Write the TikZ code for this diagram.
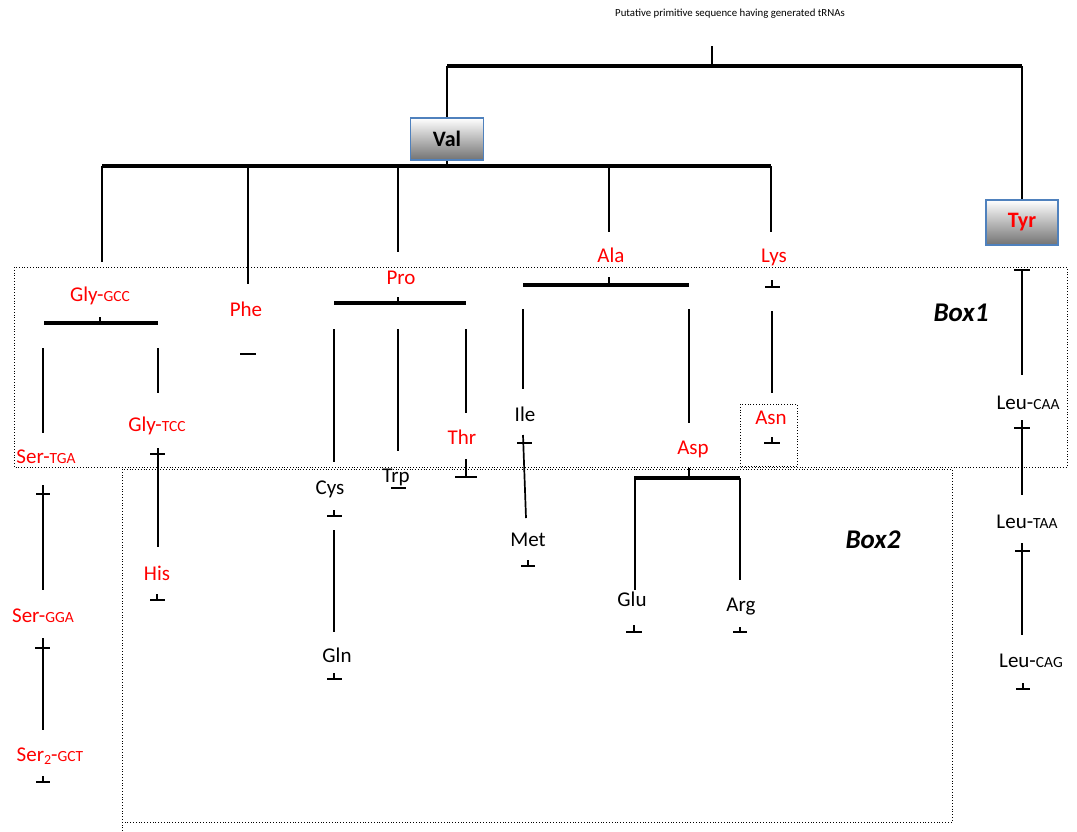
\documentclass[tikz,border=0pt]{standalone}
\usepackage{fontspec}
\setmainfont{Carlito}
\newcommand\smc[1]{{\fontsize{15.5}{15.5}\selectfont #1}}
\definecolor{boxblue}{HTML}{4F81BD}
\definecolor{lblred}{HTML}{FF0000}
\begin{document}
\begin{tikzpicture}[x=1pt,y=-1pt,
  lbl/.style={font=\fontsize{21}{21}\selectfont, inner sep=0pt, anchor=mid, yshift=-3pt},
  rl/.style={lbl, text=lblred},
  bl/.style={lbl, text=black},
  ln/.style={line width=1.7pt},
  thk/.style={line width=3.8pt},
  dbox/.style={dotted, line width=0.8pt},
  aabox/.style={draw=boxblue, line width=1.5pt, top color=white, bottom color=black!55,
    font=\fontsize{22}{22}\selectfont\bfseries, inner sep=0pt},
  boxlbl/.style={font=\fontsize{27}{27}\selectfont\bfseries\itshape, inner sep=0pt, anchor=mid, yshift=-3pt}]
\useasboundingbox (0,0) rectangle (1077,831);

% title and root
\node[font=\fontsize{10.8}{10.8}\selectfont, inner sep=0pt] (title) at (730,14) {Putative primitive sequence having generated tRNAs};
\coordinate (r0) at (712,46);
\coordinate (r1) at (712,66);
\coordinate (tl) at (447,66);
\coordinate (tr) at (1022,66);
\draw[ln] (r0) -- (r1);
\draw[thk] (tl) -- (tr);

% boxes
\node[aabox, minimum width=73pt, minimum height=42pt] (val) at (447,139) {Val};
\node[aabox, minimum width=72pt, minimum height=45pt, text=lblred] (tyr) at (1022,222.5) {Tyr};
\draw[ln] (tl) -- (val.north);
\draw[ln] (tr) -- (tyr.north);

% Val level
\coordinate (vb) at (447,166);
\coordinate (h1) at (102,166);
\coordinate (h2) at (771,166);
\draw[ln] (val.south) -- (vb);
\draw[thk] (h1) -- (h2);
\coordinate (bGly) at (102,262);
\coordinate (tPhe) at (248,166);
\coordinate (bPhe) at (248,284);
\coordinate (tPro) at (398,166);
\coordinate (bPro) at (398,252);
\coordinate (tAla) at (609,166);
\coordinate (bAla) at (609,232);
\coordinate (bLys) at (771,232);
\draw[ln] (h1) -- (bGly);
\draw[ln] (tPhe) -- (bPhe);
\draw[ln] (tPro) -- (bPro);
\draw[ln] (tAla) -- (bAla);
\draw[ln] (h2) -- (bLys);

% Gly group
\node[rl] (glygcc) at (100,296) {Gly-\smc{GCC}};
\draw[ln] (100,317) -- (100,323);
\draw[thk] (44,323) -- (158,323);
\draw[ln] (43,348) -- (43,433);
\draw[ln] (158,348) -- (158,393);
\node[rl] (sertga) at (46,458) {Ser-\smc{TGA}};
\node[rl] (glytcc) at (157,426) {Gly-\smc{TCC}};
\draw[ln] (150,454) -- (165,454);
\draw[ln] (158,448) -- (158,547);
\node[rl] (his) at (157,575) {His};
\draw[ln] (150,600) -- (165,600);
\draw[ln] (157,594) -- (157,600);
\draw[ln] (36,494) -- (50,494);
\draw[ln] (43,485) -- (43,590);
\node[rl] (sergga) at (43,617) {Ser-\smc{GGA}};
\draw[ln] (35,648) -- (50,648);
\draw[ln] (43,638) -- (43,730);
\node[rl] (sergct) at (50,756) {Ser{\raisebox{-0.35ex}{\fontsize{14}{14}\selectfont 2}}-\smc{GCT}};
\draw[ln] (36,782) -- (50,782);
\draw[ln] (43,776) -- (43,782);

% Phe
\node[rl] (phe) at (246,311) {Phe};
\draw[ln] (240,354) -- (256,354);

% Pro group
\node[rl] (pro) at (401,279) {Pro};
\draw[ln] (398,297) -- (398,303);
\draw[thk] (334,303) -- (466,303);
\draw[ln] (334,329) -- (334,462);
\draw[ln] (398,329) -- (398,451);
\draw[ln] (466,329) -- (466,413);
\node[rl] (thr) at (462,439) {Thr};
\draw[ln] (455,477) -- (477,477);
\draw[ln] (466,459) -- (466,477);
\node[bl] (trp) at (396,477) {Trp};
\draw[ln] (391,488) -- (406,488);
\node[bl] (cys) at (330,489) {Cys};
\draw[ln] (327,516) -- (342,516);
\draw[ln] (334,510) -- (334,516);
\draw[ln] (334,530) -- (334,632);
\node[bl] (gln) at (337,657) {Gln};
\draw[ln] (327,679) -- (342,679);
\draw[ln] (334,673) -- (334,679);

% Ala group
\node[rl] (ala) at (611,257) {Ala};
\draw[ln] (609,277) -- (609,285);
\draw[thk] (523,285) -- (689,285);
\draw[ln] (523,309) -- (523,389);
\draw[ln] (689,309) -- (689,423);
\node[bl] (ile) at (525,416) {Ile};
\draw[ln] (517,443) -- (532,443);
\draw[ln] (523,435) -- (526,518);
\node[bl] (met) at (528,541) {Met};
\draw[ln] (521,566) -- (535,566);
\draw[ln] (528,560) -- (528,566);
\node[rl] (asp) at (693,449) {Asp};
\draw[ln] (689,468) -- (689,478);
\draw[thk] (634,478) -- (740,478);
\draw[ln] (635,478) -- (635,590);
\draw[ln] (740,478) -- (740,580);
\node[bl] (glu) at (632,601) {Glu};
\draw[ln] (626,632) -- (642,632);
\draw[ln] (634,625) -- (634,632);
\node[bl] (arg) at (741,606) {Arg};
\draw[ln] (733,632) -- (747,632);
\draw[ln] (740,627) -- (740,632);

% Lys group
\node[rl] (lys) at (774,257) {Lys};
\draw[ln] (765,287) -- (780,287);
\draw[ln] (772,280) -- (772,287);
\draw[ln] (772,311) -- (772,393);
\node[rl] (asn) at (771,419) {Asn};
\draw[ln] (764,443) -- (780,443);
\draw[ln] (772,437) -- (772,443);
\draw[dbox] (740,404) rectangle (797,466);

% Tyr group
\draw[ln] (1014,270) -- (1030,270);
\draw[ln] (1022,270) -- (1022,375);
\node[bl] (leucaa) at (1028,404) {Leu-\smc{CAA}};
\draw[ln] (1014,428) -- (1030,428);
\draw[ln] (1022,420) -- (1022,495);
\node[bl] (leutaa) at (1027,523) {Leu-\smc{TAA}};
\draw[ln] (1015,551) -- (1030,551);
\draw[ln] (1022,543) -- (1022,635);
\node[bl] (leucag) at (1031,662) {Leu-\smc{CAG}};
\draw[ln] (1016,689) -- (1030,689);
\draw[ln] (1023,683) -- (1023,689);

% boxes 1 and 2
\draw[dbox] (14,267) rectangle (1067,467);
\draw[dbox] (122,831) -- (122,469) -- (952,469) -- (952,822) -- (122,822);
\node[boxlbl] (box1) at (961,316) {Box1};
\node[boxlbl] (box2) at (873,543) {Box2};
\end{tikzpicture}
\end{document}
